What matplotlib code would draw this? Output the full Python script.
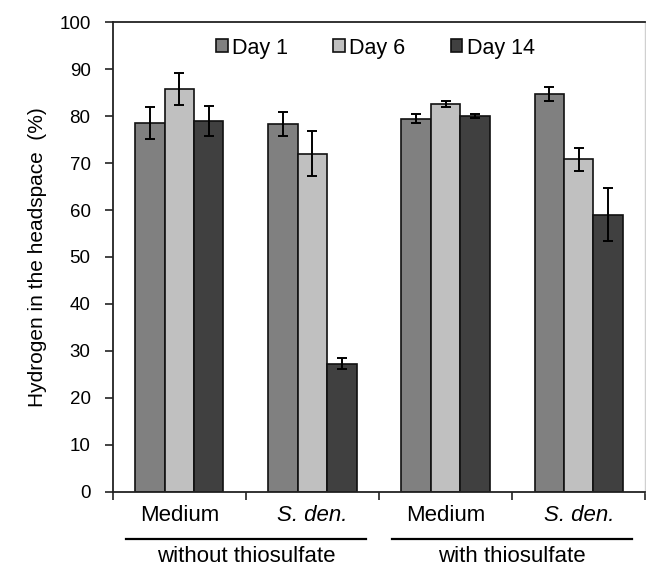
import matplotlib
matplotlib.use("Agg")
import matplotlib.pyplot as plt
import matplotlib.transforms as mtransforms
import numpy as np

plt.rcParams['font.family'] = ['Liberation Sans', 'DejaVu Sans']

# data
categories = ["Medium", "S. den.", "Medium", "S. den."]
groups = ["without thiosulfate", "with thiosulfate"]
series = ["Day 1", "Day 6", "Day 14"]
day1 = [78.5, 78.3, 79.5, 84.7]
day1_err = [3.4, 2.5, 1.0, 1.5]
day6 = [85.7, 72.0, 82.6, 70.8]
day6_err = [3.4, 4.8, 0.6, 2.4]
day14 = [79.0, 27.3, 80.0, 59.0]
day14_err = [3.2, 1.1, 0.4, 5.6]
colors = ["#808080", "#c0c0c0", "#404040"]

fig = plt.figure(figsize=(6.46, 5.66), dpi=100)
ax = fig.add_axes([0.1745, 0.1314, 0.8245, 0.8292])

x = np.arange(len(categories))
width = 0.221
values = [day1, day6, day14]
errors = [day1_err, day6_err, day14_err]
for i, (vals, errs) in enumerate(zip(values, errors)):
    ax.bar(x + (i - 1) * width, vals, width, color=colors[i], edgecolor="#111111",
           linewidth=1.2, label=series[i], zorder=2)
    ax.errorbar(x + (i - 1) * width, vals, yerr=errs, fmt="none", ecolor="black",
                elinewidth=1.4, capsize=3.8, capthick=1.4, zorder=3)

ax.set_xlim(-0.5, 3.5)
ax.set_ylim(0, 100)
ax.set_yticks(np.arange(0, 101, 10))
ax.set_xticks(np.arange(-0.5, 3.6, 1.0))
ax.set_xticklabels([])
ax.tick_params(axis="both", direction="out", length=6, width=1.2, colors="#222222",
               labelsize=13.5, labelcolor="black")
ax.tick_params(axis="y", pad=10)

for side in ["left", "bottom", "top"]:
    ax.spines[side].set_linewidth(1.3)
    ax.spines[side].set_color("#222222")
ax.spines["right"].set_color("#d0d0d0")
ax.spines["right"].set_linewidth(1.0)

ax.set_ylabel("Hydrogen in the headspace  (%)", fontsize=15, labelpad=9)

# category and group labels below the axis
trans = mtransforms.blended_transform_factory(ax.transData, ax.transAxes)
for xi, cat in zip(x, categories):
    style = "italic" if cat.startswith("S.") else "normal"
    ax.text(xi, -0.05, cat, transform=trans, ha="center", va="center",
            fontsize=16, style=style)
for gi, name in enumerate(groups):
    center = 0.5 + 2 * gi
    ax.plot([center - 0.9, center + 0.9], [-0.101, -0.101], color="black",
            linewidth=1.6, transform=trans, clip_on=False)
    ax.text(center, -0.139, name, transform=trans, ha="center", va="center", fontsize=16)

ax.legend(ncol=3, loc="upper center", bbox_to_anchor=(0.493, 0.995), frameon=False,
          fontsize=15.5, handlelength=0.55, handleheight=0.55, handletextpad=0.2,
          columnspacing=2.1, borderaxespad=0.2)

fig.savefig("out.png", dpi=100)
